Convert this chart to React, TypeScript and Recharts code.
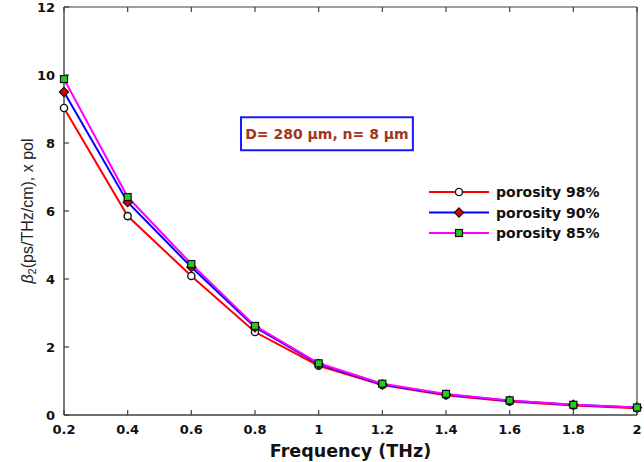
import React from "react";
import {
  LineChart,
  Line,
  XAxis,
  YAxis,
  Legend,
  ReferenceArea,
} from "recharts";

const freq = [0.2, 0.4, 0.6, 0.8, 1, 1.2, 1.4, 1.6, 1.8, 2];
const por98 = [9.03, 5.85, 4.09, 2.44, 1.45, 0.88, 0.58, 0.4, 0.28, 0.2];
const por90 = [9.5, 6.26, 4.35, 2.58, 1.5, 0.9, 0.6, 0.42, 0.3, 0.22];
const por85 = [9.88, 6.41, 4.44, 2.62, 1.52, 0.92, 0.62, 0.43, 0.3, 0.22];
const xTicks = [0.2, 0.4, 0.6, 0.8, 1, 1.2, 1.4, 1.6, 1.8, 2];
const yTicks = [0, 2, 4, 6, 8, 10, 12];
const seriesNames = ["porosity 98%", "porosity 90%", "porosity 85%"];
const noteText = "D= 280 µm, n= 8 µm";

const data = freq.map((f, i) => ({
  f,
  p98: por98[i],
  p90: por90[i],
  p85: por85[i],
}));

const AXIS = "#404040";
const tickFont: React.CSSProperties = {
  fontFamily: "DejaVu Sans",
  fontWeight: "bold",
  fontSize: 13,
  fill: "#111",
};

const BottomTick = (props: any) => {
  const { x, y, payload } = props;
  return (
    <g>
      <line x1={x} y1={y} x2={x} y2={y - 5} stroke={AXIS} strokeWidth={1.2} />
      <text x={x} y={y + 19} textAnchor="middle" style={tickFont}>
        {payload.value}
      </text>
    </g>
  );
};

const TopTick = (props: any) => {
  const { x, y } = props;
  return <line x1={x} y1={y} x2={x} y2={y + 5} stroke={AXIS} strokeWidth={1.2} />;
};

const LeftTick = (props: any) => {
  const { x, y, payload } = props;
  return (
    <g>
      <line x1={x} y1={y} x2={x + 5} y2={y} stroke={AXIS} strokeWidth={1.2} />
      <text x={x - 9} y={y + 5} textAnchor="end" style={tickFont}>
        {payload.value}
      </text>
    </g>
  );
};

const RightTick = (props: any) => {
  const { x, y } = props;
  return <line x1={x} y1={y} x2={x - 5} y2={y} stroke={AXIS} strokeWidth={1.2} />;
};

const CircleDot = (props: any) => {
  const { cx, cy } = props;
  return <circle cx={cx} cy={cy} r={3.6} fill="#fff" stroke="#111" strokeWidth={1.4} />;
};

const DiamondDot = (props: any) => {
  const { cx, cy } = props;
  const s = 4.6;
  return (
    <polygon
      points={`${cx},${cy - s} ${cx + s},${cy} ${cx},${cy + s} ${cx - s},${cy}`}
      fill="#e00000"
      stroke="#111"
      strokeWidth={1.2}
    />
  );
};

const SquareDot = (props: any) => {
  const { cx, cy } = props;
  return (
    <rect x={cx - 3.5} y={cy - 3.5} width={7} height={7} fill="#22cc22" stroke="#111" strokeWidth={1.2} />
  );
};

const legendItems = [
  { name: seriesNames[0], color: "#ff0000", marker: "circle" },
  { name: seriesNames[1], color: "#0000ff", marker: "diamond" },
  { name: seriesNames[2], color: "#ff00ff", marker: "square" },
];

const LegendBox = () => (
  <svg width={210} height={66}>
    {legendItems.map((it, i) => {
      const cy = 10 + i * 20.5;
      return (
        <g key={it.name}>
          <line x1={4} y1={cy} x2={64} y2={cy} stroke={it.color} strokeWidth={2} />
          {it.marker === "circle" && <CircleDot cx={34} cy={cy} />}
          {it.marker === "diamond" && <DiamondDot cx={34} cy={cy} />}
          {it.marker === "square" && <SquareDot cx={34} cy={cy} />}
          <text
            x={71}
            y={cy + 5}
            style={{ fontFamily: "DejaVu Sans", fontWeight: "bold", fontSize: 14, fill: "#111" }}
          >
            {it.name}
          </text>
        </g>
      );
    })}
  </svg>
);

const YTitle = (props: any) => {
  const vb = props.viewBox || { y: 7, height: 408 };
  const cx = 27;
  const cy = vb.y + vb.height / 2;
  return (
    <text
      x={cx}
      y={cy}
      transform={`rotate(-90 ${cx} ${cy})`}
      textAnchor="middle"
      dominantBaseline="central"
      style={{ fontFamily: "Liberation Sans", fontSize: 16, fill: "#222" }}
    >
      <tspan fontStyle="italic">β</tspan>
      <tspan fontSize={11} dy={5}>2</tspan>
      <tspan dy={-5}>(ps/THz/cm), x pol</tspan>
    </text>
  );
};

const XTitle = (props: any) => {
  const vb = props.viewBox || { x: 64, width: 573 };
  return (
    <text
      x={vb.x + vb.width / 2}
      y={457}
      textAnchor="middle"
      style={{ fontFamily: "DejaVu Sans", fontWeight: "bold", fontSize: 17.5, fill: "#111" }}
    >
      Frequency (THz)
    </text>
  );
};

export default function App() {
  return (
    <div style={{ position: "absolute", left: 0, top: 0, width: 644, height: 462, background: "#fff" }}>
      <LineChart
        width={644}
        height={462}
        data={data}
        margin={{ top: 6, right: 6, bottom: 0, left: 0 }}
      >
        <XAxis
          dataKey="f"
          type="number"
          domain={[0.2, 2]}
          ticks={xTicks}
          interval={0}
          height={47}
          axisLine={{ stroke: AXIS, strokeWidth: 1.4 }}
          tickLine={false}
          tickSize={0}
          tickMargin={0}
          tick={<BottomTick />}
          label={{ content: <XTitle /> }}
        />
        <XAxis
          xAxisId="top"
          dataKey="f"
          type="number"
          orientation="top"
          domain={[0.2, 2]}
          ticks={xTicks}
          interval={0}
          height={1}
          axisLine={{ stroke: AXIS, strokeWidth: 1.2 }}
          tickLine={false}
          tickSize={0}
          tickMargin={0}
          tick={<TopTick />}
        />
        <YAxis
          type="number"
          domain={[0, 12]}
          ticks={yTicks}
          interval={0}
          width={64}
          axisLine={{ stroke: AXIS, strokeWidth: 1.4 }}
          tickLine={false}
          tickSize={0}
          tickMargin={0}
          tick={<LeftTick />}
          label={{ content: <YTitle /> }}
        />
        <YAxis
          yAxisId="right"
          orientation="right"
          type="number"
          domain={[0, 12]}
          ticks={yTicks}
          interval={0}
          width={1}
          axisLine={{ stroke: AXIS, strokeWidth: 1.2 }}
          tickLine={false}
          tickSize={0}
          tickMargin={0}
          tick={<RightTick />}
        />
        <ReferenceArea
          x1={0.756}
          x2={1.296}
          y1={7.79}
          y2={8.76}
          fill="#fff"
          fillOpacity={1}
          stroke="#1a1aff"
          strokeWidth={2}
          ifOverflow="visible"
          label={{
            value: noteText,
            position: "center",
            style: { fontFamily: "DejaVu Sans", fontWeight: "bold", fontSize: 14, fill: "#a0361c" },
          }}
        />
        <Line
          dataKey="p98"
          name={seriesNames[0]}
          stroke="#ff0000"
          strokeWidth={2}
          dot={<CircleDot />}
          isAnimationActive={false}
        />
        <Line
          dataKey="p90"
          name={seriesNames[1]}
          stroke="#0000ff"
          strokeWidth={2}
          dot={<DiamondDot />}
          isAnimationActive={false}
        />
        <Line
          dataKey="p85"
          name={seriesNames[2]}
          stroke="#ff00ff"
          strokeWidth={2}
          dot={<SquareDot />}
          isAnimationActive={false}
        />
        <Legend
          layout="vertical"
          align="center"
          verticalAlign="middle"
          content={<LegendBox />}
          wrapperStyle={{ left: 425, top: 182, width: 210, height: 66 }}
        />
      </LineChart>
    </div>
  );
}
